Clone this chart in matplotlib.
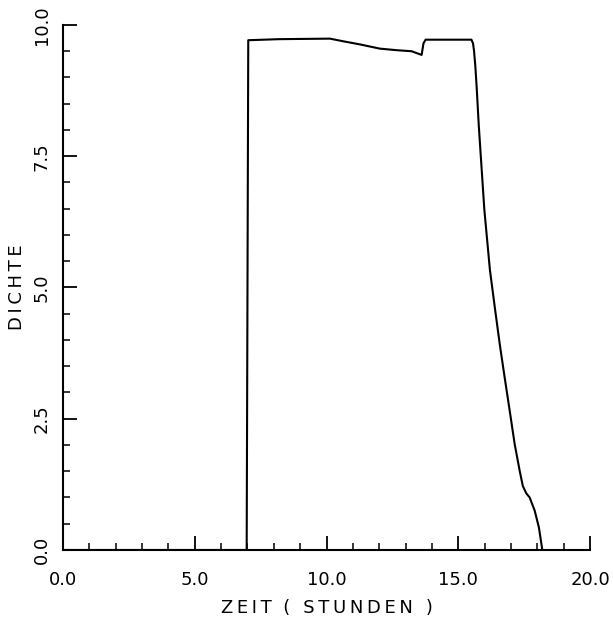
import matplotlib
matplotlib.use("Agg")
import matplotlib.pyplot as plt
from matplotlib.ticker import MultipleLocator

# Zeit in Stunden, Dichte
zeit = [0.0, 6.97, 7.03, 8.2, 10.13, 10.63, 11.27, 12.02, 12.66, 13.23, 13.61,
        13.68, 13.76, 15.50, 15.56, 15.60, 15.65, 15.70, 15.78, 15.99, 16.20,
        16.40, 16.58, 16.76, 16.95, 17.14, 17.33, 17.45, 17.58, 17.71, 17.90,
        18.06, 18.19]
dichte = [0.0, 0.0, 9.71, 9.73, 9.74, 9.69, 9.63, 9.55, 9.52, 9.50, 9.43,
          9.65, 9.72, 9.72, 9.65, 9.50, 9.20, 8.80, 8.07, 6.48, 5.34,
          4.57, 3.90, 3.29, 2.66, 2.02, 1.51, 1.22, 1.08, 1.00, 0.75,
          0.43, 0.0]

x_ticks = [0.0, 5.0, 10.0, 15.0, 20.0]
y_ticks = [0.0, 2.5, 5.0, 7.5, 10.0]


def gesperrt(s):
    # wide letter spacing like the plotter font
    return "\u2009".join(s)


fig = plt.figure(figsize=(6.13, 6.17), dpi=100)
ax = fig.add_axes([0.1028, 0.1086, 0.8597, 0.8509])

ax.plot(zeit, dichte, color="black", linewidth=1.5)

ax.set_xlim(0, 20)
ax.set_ylim(0, 10)
ax.spines["top"].set_visible(False)
ax.spines["right"].set_visible(False)
ax.spines["left"].set_linewidth(1.5)
ax.spines["bottom"].set_linewidth(1.5)

ax.set_xticks(x_ticks)
ax.set_yticks(y_ticks)
ax.set_xticklabels(["%.1f" % v for v in x_ticks])
ax.set_yticklabels(["%.1f" % v for v in y_ticks])
ax.xaxis.set_minor_locator(MultipleLocator(1.0))
ax.yaxis.set_minor_locator(MultipleLocator(0.5))

ax.tick_params(which="major", direction="in", length=10, width=1.3,
               labelsize=13, pad=15)
ax.tick_params(which="minor", direction="in", length=5, width=1.1)
ax.tick_params(axis="y", which="major", pad=9)
plt.setp(ax.get_yticklabels(), rotation=90, va="center", ha="right")

ax.set_xlabel(gesperrt("ZEIT") + "  " + gesperrt("( STUNDEN )"), fontsize=13,
              labelpad=7)
ax.set_ylabel(gesperrt("DICHTE"), fontsize=13, labelpad=5)

fig.savefig("out.png", dpi=100)
